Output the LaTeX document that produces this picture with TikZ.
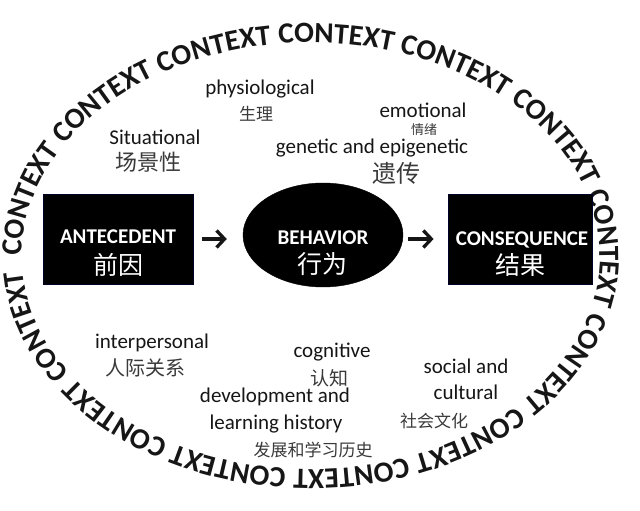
\documentclass[tikz,border=0pt]{standalone}
\usepackage{fontspec}
\setmainfont{Carlito}
\newfontfamily\cjk{Noto Sans CJK SC}
\usetikzlibrary{decorations.text,arrows.meta,shapes.geometric}
\definecolor{ink}{HTML}{161616}
\definecolor{cjkgray}{HTML}{3A3A3A}
\newcommand\ctxfont{\bfseries\fontsize{29.3}{29.3}\selectfont}
\newcommand\cjks[1]{\cjk\fontsize{#1}{#1}\selectfont}
\newcommand\lats[1]{\fontsize{#1}{#1}\selectfont}
\begin{document}
\begin{tikzpicture}[x=1pt,y=1pt,
  blackbox/.style={fill=black, draw=black!85!blue, line width=0.8pt, minimum width=150pt, minimum height=90pt, inner sep=0pt},
  blackoval/.style={ellipse, fill=black, draw=black, minimum width=160pt, minimum height=104pt, inner sep=0pt},
  boxtitle/.style={text=white, font=\bfseries\lats{21}, inner sep=0pt},
  boxcjk/.style={text=white, font=\cjks{25}, inner sep=0pt},
  lbl/.style={text=ink, font=\lats{21}, inner sep=0pt},
  cjklbl/.style={text=cjkgray, inner sep=0pt},
  flowarrow/.style={draw=ink, line width=3.3pt, -{Straight Barb[length=8pt,width=17pt]}}
]
\fill[white] (0,0) rectangle (640,-511);
\useasboundingbox (0,0) rectangle (640,-511);

% context ring
\coordinate (ctxstart) at (22,-256);
\path[decorate, decoration={text along path,
   text={|\ctxfont|CONTEXT CONTEXT CONTEXT CONTEXT CONTEXT CONTEXT CONTEXT CONTEXT CONTEXT CONTEXT CONTEXT CONTEXT CONTEXT},
   text align={fit to path stretching spaces}, text color=ink}]
  (ctxstart) arc[start angle=180, end angle=-176, x radius=289pt, y radius=213.5pt];

% main chain
\node[blackbox, minimum width=150pt] (ant) at (118,-239) {};
\node[blackoval] (beh) at (323,-235) {};
\node[blackbox, minimum width=144pt] (cons) at (520,-239) {};

\node[boxtitle] (antT) at (118,-237) {ANTECEDENT};
\node[boxcjk] (antC) at (118,-265) {前因};
\node[boxtitle] (behT) at (323,-238) {BEHAVIOR};
\node[boxcjk] (behC) at (322,-264) {行为};
\node[boxtitle] (consT) at (522,-240) {CONSEQUENCE};
\node[boxcjk] (consC) at (520,-265) {结果};

\draw[flowarrow, shorten <=9pt, shorten >=16pt] (ant.east) -- (ant.east -| beh.west);
\draw[flowarrow, shorten <=5pt, shorten >=14pt] (cons.west -| beh.east) -- (cons.west);

% upper labels
\node[lbl] (phys) at (260,-89) {physiological};
\node[cjklbl, font=\cjks{17}] (physC) at (256,-114) {生理};
\node[lbl] (situ) at (155,-137) {Situational};
\node[cjklbl, font=\cjks{22}] (situC) at (148,-162) {场景性};
\node[lbl] (emo) at (423,-110) {emotional};
\node[cjklbl, font=\cjks{13}] (emoC) at (424,-130) {情绪};
\node[lbl] (gen) at (372,-148) {genetic and epigenetic};
\node[cjklbl, font=\cjks{24}] (genC) at (396,-173) {遗传};

% lower labels
\node[lbl] (inter) at (152,-343) {interpersonal};
\node[cjklbl, font=\cjks{20}] (interC) at (145,-368) {人际关系};
\node[lbl] (cog) at (332,-352) {cognitive};
\node[cjklbl, font=\cjks{19}] (cogC) at (329,-378) {认知};
\node[lbl] (dev1) at (275,-397) {development and};
\node[lbl] (dev2) at (276,-424) {learning history};
\node[cjklbl, font=\cjks{17}] (devC) at (313,-450) {发展和学习历史};
\node[lbl] (soc1) at (466,-366) {social and};
\node[lbl] (soc2) at (466,-392) {cultural};
\node[cjklbl, font=\cjks{17}] (socC) at (434,-421) {社会文化};
\end{tikzpicture}
\end{document}
